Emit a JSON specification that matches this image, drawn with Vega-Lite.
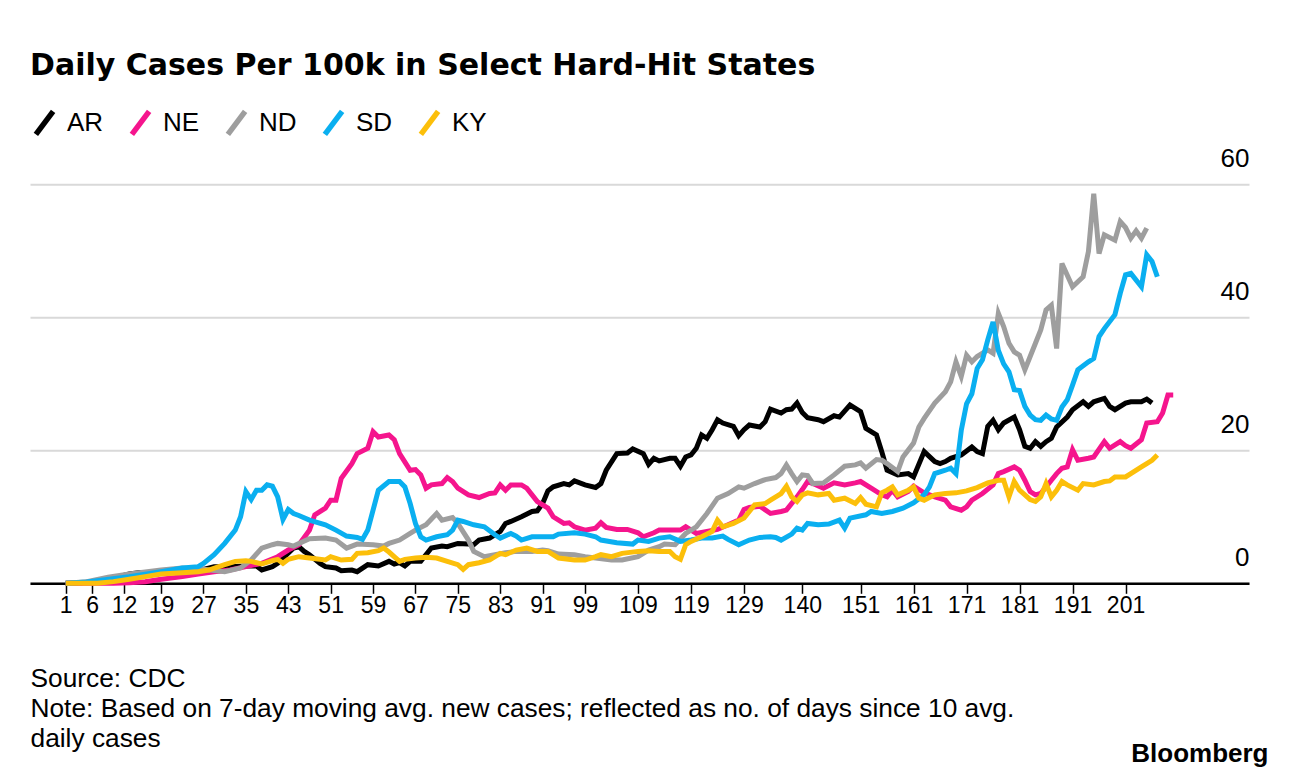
{
"$schema": "https://vega.github.io/schema/vega-lite/v6.json",
"width": 1219,
"height": 399,
"autosize": {"type": "none"},
"padding": {"left": 30, "top": 184.3, "right": 47, "bottom": 194.7},
"background": "white",
"title": {"text": "Daily Cases Per 100k in Select Hard-Hit States", "anchor": "start", "frame": "group", "font": "DejaVu Sans", "fontSize": 30, "fontWeight": "bold", "color": "black", "baseline": "alphabetic", "offset": 3},
"data": {"values": [
{"s":"AR","d":1,"v":0},{"s":"AR","d":4,"v":0.1},{"s":"AR","d":7,"v":0.3},{"s":"AR","d":9,"v":0.7},{"s":"AR","d":11,"v":1.0},{"s":"AR","d":13,"v":1.4},{"s":"AR","d":15,"v":1.6},{"s":"AR","d":16,"v":1.4},{"s":"AR","d":19,"v":1.5},{"s":"AR","d":23,"v":1.8},{"s":"AR","d":27,"v":2.1},{"s":"AR","d":29,"v":2.5},{"s":"AR","d":32,"v":2.5},{"s":"AR","d":35,"v":2.6},{"s":"AR","d":37,"v":2.6},{"s":"AR","d":38,"v":2.0},{"s":"AR","d":40,"v":2.5},{"s":"AR","d":41,"v":3.0},{"s":"AR","d":44,"v":5.3},{"s":"AR","d":45,"v":5.5},{"s":"AR","d":46,"v":4.8},{"s":"AR","d":47,"v":4.3},{"s":"AR","d":49,"v":3.0},{"s":"AR","d":50,"v":2.5},{"s":"AR","d":52,"v":2.3},{"s":"AR","d":53,"v":1.9},{"s":"AR","d":55,"v":2.0},{"s":"AR","d":56,"v":1.75},{"s":"AR","d":58,"v":2.8},{"s":"AR","d":60,"v":2.6},{"s":"AR","d":62,"v":3.3},{"s":"AR","d":63,"v":2.9},{"s":"AR","d":64,"v":3.1},{"s":"AR","d":65,"v":2.6},{"s":"AR","d":66,"v":3.3},{"s":"AR","d":68,"v":3.3},{"s":"AR","d":70,"v":5.3},{"s":"AR","d":72,"v":5.6},{"s":"AR","d":73,"v":5.5},{"s":"AR","d":75,"v":6.0},{"s":"AR","d":77,"v":5.9},{"s":"AR","d":78,"v":5.8},{"s":"AR","d":79,"v":6.5},{"s":"AR","d":81,"v":6.8},{"s":"AR","d":83,"v":7.8},{"s":"AR","d":84,"v":9.0},{"s":"AR","d":85,"v":9.3},{"s":"AR","d":87,"v":10.0},{"s":"AR","d":89,"v":10.8},{"s":"AR","d":90,"v":10.9},{"s":"AR","d":91,"v":12.0},{"s":"AR","d":92,"v":13.9},{"s":"AR","d":93,"v":14.5},{"s":"AR","d":95,"v":15.0},{"s":"AR","d":96,"v":14.8},{"s":"AR","d":97,"v":15.4},{"s":"AR","d":99,"v":14.8},{"s":"AR","d":101,"v":14.4},{"s":"AR","d":102,"v":15.0},{"s":"AR","d":103,"v":17.0},{"s":"AR","d":105,"v":19.5},{"s":"AR","d":107,"v":19.6},{"s":"AR","d":108,"v":20.2},{"s":"AR","d":110,"v":19.5},{"s":"AR","d":111,"v":17.9},{"s":"AR","d":112,"v":18.8},{"s":"AR","d":113,"v":18.4},{"s":"AR","d":115,"v":18.8},{"s":"AR","d":116,"v":18.8},{"s":"AR","d":117,"v":17.6},{"s":"AR","d":118,"v":19.0},{"s":"AR","d":119,"v":19.3},{"s":"AR","d":120,"v":20.3},{"s":"AR","d":121,"v":22.3},{"s":"AR","d":122,"v":21.8},{"s":"AR","d":123,"v":23.1},{"s":"AR","d":124,"v":24.6},{"s":"AR","d":125,"v":24.1},{"s":"AR","d":127,"v":23.6},{"s":"AR","d":128,"v":22.2},{"s":"AR","d":129,"v":23.1},{"s":"AR","d":130,"v":23.8},{"s":"AR","d":132,"v":23.5},{"s":"AR","d":133,"v":24.3},{"s":"AR","d":134,"v":26.2},{"s":"AR","d":136,"v":25.6},{"s":"AR","d":137,"v":26.1},{"s":"AR","d":138,"v":26.2},{"s":"AR","d":139,"v":27.1},{"s":"AR","d":140,"v":25.7},{"s":"AR","d":141,"v":24.9},{"s":"AR","d":143,"v":24.6},{"s":"AR","d":144,"v":24.3},{"s":"AR","d":146,"v":25.2},{"s":"AR","d":147,"v":25.0},{"s":"AR","d":149,"v":26.8},{"s":"AR","d":151,"v":25.8},{"s":"AR","d":152,"v":23.3},{"s":"AR","d":154,"v":22.3},{"s":"AR","d":155,"v":19.8},{"s":"AR","d":156,"v":17.0},{"s":"AR","d":158,"v":16.3},{"s":"AR","d":160,"v":16.5},{"s":"AR","d":161,"v":16.0},{"s":"AR","d":163,"v":19.8},{"s":"AR","d":165,"v":18.3},{"s":"AR","d":166,"v":18.0},{"s":"AR","d":167,"v":18.3},{"s":"AR","d":168,"v":18.8},{"s":"AR","d":170,"v":19.3},{"s":"AR","d":172,"v":20.5},{"s":"AR","d":173,"v":19.8},{"s":"AR","d":174,"v":19.5},{"s":"AR","d":175,"v":23.6},{"s":"AR","d":176,"v":24.5},{"s":"AR","d":177,"v":23.1},{"s":"AR","d":178,"v":24.1},{"s":"AR","d":180,"v":25.0},{"s":"AR","d":181,"v":23.1},{"s":"AR","d":182,"v":20.6},{"s":"AR","d":183,"v":20.3},{"s":"AR","d":184,"v":21.3},{"s":"AR","d":185,"v":20.6},{"s":"AR","d":186,"v":21.3},{"s":"AR","d":187,"v":21.8},{"s":"AR","d":188,"v":23.5},{"s":"AR","d":190,"v":25.0},{"s":"AR","d":191,"v":26.1},{"s":"AR","d":193,"v":27.3},{"s":"AR","d":194,"v":26.6},{"s":"AR","d":195,"v":27.3},{"s":"AR","d":197,"v":27.8},{"s":"AR","d":198,"v":26.6},{"s":"AR","d":199,"v":26.1},{"s":"AR","d":201,"v":27.1},{"s":"AR","d":202,"v":27.3},{"s":"AR","d":204,"v":27.3},{"s":"AR","d":205,"v":27.7},{"s":"AR","d":206,"v":27.1},
{"s":"NE","d":1,"v":0},{"s":"NE","d":10,"v":0},{"s":"NE","d":13,"v":0.1},{"s":"NE","d":16,"v":0.25},{"s":"NE","d":19,"v":0.6},{"s":"NE","d":23,"v":1.0},{"s":"NE","d":26,"v":1.4},{"s":"NE","d":29,"v":1.75},{"s":"NE","d":32,"v":2.0},{"s":"NE","d":35,"v":2.5},{"s":"NE","d":38,"v":3.0},{"s":"NE","d":41,"v":4.0},{"s":"NE","d":43,"v":5.0},{"s":"NE","d":45,"v":5.8},{"s":"NE","d":47,"v":8.0},{"s":"NE","d":48,"v":10.3},{"s":"NE","d":50,"v":11.3},{"s":"NE","d":51,"v":12.5},{"s":"NE","d":52,"v":12.5},{"s":"NE","d":53,"v":15.8},{"s":"NE","d":55,"v":18.0},{"s":"NE","d":56,"v":19.5},{"s":"NE","d":58,"v":20.3},{"s":"NE","d":59,"v":22.8},{"s":"NE","d":60,"v":22.0},{"s":"NE","d":62,"v":22.3},{"s":"NE","d":63,"v":21.6},{"s":"NE","d":64,"v":19.5},{"s":"NE","d":66,"v":17.0},{"s":"NE","d":67,"v":17.1},{"s":"NE","d":68,"v":16.3},{"s":"NE","d":69,"v":14.3},{"s":"NE","d":70,"v":14.8},{"s":"NE","d":72,"v":15.0},{"s":"NE","d":73,"v":15.9},{"s":"NE","d":74,"v":15.3},{"s":"NE","d":75,"v":14.3},{"s":"NE","d":77,"v":13.3},{"s":"NE","d":79,"v":12.9},{"s":"NE","d":81,"v":13.5},{"s":"NE","d":82,"v":13.6},{"s":"NE","d":83,"v":14.8},{"s":"NE","d":84,"v":14.0},{"s":"NE","d":85,"v":14.8},{"s":"NE","d":87,"v":14.8},{"s":"NE","d":88,"v":14.3},{"s":"NE","d":89,"v":13.3},{"s":"NE","d":90,"v":12.3},{"s":"NE","d":92,"v":11.3},{"s":"NE","d":93,"v":10.0},{"s":"NE","d":95,"v":9.0},{"s":"NE","d":96,"v":9.1},{"s":"NE","d":97,"v":8.5},{"s":"NE","d":99,"v":8.0},{"s":"NE","d":101,"v":8.3},{"s":"NE","d":102,"v":9.1},{"s":"NE","d":103,"v":8.4},{"s":"NE","d":105,"v":8.1},{"s":"NE","d":107,"v":8.1},{"s":"NE","d":109,"v":7.6},{"s":"NE","d":110,"v":7.0},{"s":"NE","d":112,"v":7.6},{"s":"NE","d":113,"v":8.0},{"s":"NE","d":115,"v":8.0},{"s":"NE","d":117,"v":8.0},{"s":"NE","d":118,"v":8.5},{"s":"NE","d":120,"v":7.5},{"s":"NE","d":122,"v":7.8},{"s":"NE","d":124,"v":8.1},{"s":"NE","d":126,"v":8.8},{"s":"NE","d":128,"v":9.5},{"s":"NE","d":129,"v":11.1},{"s":"NE","d":130,"v":11.4},{"s":"NE","d":132,"v":11.6},{"s":"NE","d":134,"v":10.5},{"s":"NE","d":136,"v":10.8},{"s":"NE","d":137,"v":11.0},{"s":"NE","d":139,"v":13.0},{"s":"NE","d":140,"v":14.1},{"s":"NE","d":141,"v":15.3},{"s":"NE","d":142,"v":15.0},{"s":"NE","d":144,"v":14.3},{"s":"NE","d":146,"v":15.1},{"s":"NE","d":148,"v":14.8},{"s":"NE","d":150,"v":15.1},{"s":"NE","d":151,"v":15.3},{"s":"NE","d":153,"v":14.3},{"s":"NE","d":155,"v":13.3},{"s":"NE","d":156,"v":13.0},{"s":"NE","d":157,"v":14.0},{"s":"NE","d":158,"v":13.0},{"s":"NE","d":160,"v":13.8},{"s":"NE","d":161,"v":14.6},{"s":"NE","d":163,"v":13.6},{"s":"NE","d":165,"v":13.0},{"s":"NE","d":167,"v":12.5},{"s":"NE","d":168,"v":11.5},{"s":"NE","d":170,"v":11.0},{"s":"NE","d":171,"v":11.5},{"s":"NE","d":172,"v":12.5},{"s":"NE","d":174,"v":13.5},{"s":"NE","d":176,"v":14.8},{"s":"NE","d":177,"v":16.5},{"s":"NE","d":178,"v":16.8},{"s":"NE","d":180,"v":17.5},{"s":"NE","d":181,"v":17.0},{"s":"NE","d":182,"v":15.5},{"s":"NE","d":183,"v":13.8},{"s":"NE","d":184,"v":13.3},{"s":"NE","d":185,"v":13.5},{"s":"NE","d":186,"v":14.5},{"s":"NE","d":187,"v":15.5},{"s":"NE","d":188,"v":16.5},{"s":"NE","d":189,"v":17.3},{"s":"NE","d":190,"v":17.5},{"s":"NE","d":191,"v":20.1},{"s":"NE","d":192,"v":18.5},{"s":"NE","d":194,"v":18.8},{"s":"NE","d":195,"v":19.0},{"s":"NE","d":197,"v":21.3},{"s":"NE","d":198,"v":20.3},{"s":"NE","d":200,"v":21.3},{"s":"NE","d":201,"v":20.7},{"s":"NE","d":202,"v":20.3},{"s":"NE","d":204,"v":21.6},{"s":"NE","d":205,"v":24.1},{"s":"NE","d":207,"v":24.3},{"s":"NE","d":208,"v":25.6},{"s":"NE","d":209,"v":28.3},{"s":"NE","d":210,"v":28.3},
{"s":"ND","d":1,"v":0},{"s":"ND","d":5,"v":0.25},{"s":"ND","d":9,"v":0.9},{"s":"ND","d":13,"v":1.4},{"s":"ND","d":19,"v":2.0},{"s":"ND","d":23,"v":2.3},{"s":"ND","d":27,"v":2.1},{"s":"ND","d":31,"v":1.75},{"s":"ND","d":34,"v":2.3},{"s":"ND","d":36,"v":3.5},{"s":"ND","d":38,"v":5.3},{"s":"ND","d":40,"v":5.8},{"s":"ND","d":41,"v":6.0},{"s":"ND","d":43,"v":5.8},{"s":"ND","d":44,"v":5.6},{"s":"ND","d":45,"v":6.0},{"s":"ND","d":47,"v":6.7},{"s":"ND","d":50,"v":6.8},{"s":"ND","d":52,"v":6.5},{"s":"ND","d":54,"v":5.3},{"s":"ND","d":56,"v":5.9},{"s":"ND","d":59,"v":5.8},{"s":"ND","d":61,"v":5.6},{"s":"ND","d":62,"v":6.0},{"s":"ND","d":64,"v":6.5},{"s":"ND","d":66,"v":7.5},{"s":"ND","d":67,"v":8.0},{"s":"ND","d":69,"v":8.8},{"s":"ND","d":71,"v":10.5},{"s":"ND","d":72,"v":9.5},{"s":"ND","d":74,"v":9.9},{"s":"ND","d":75,"v":9.0},{"s":"ND","d":77,"v":6.5},{"s":"ND","d":78,"v":4.8},{"s":"ND","d":80,"v":4.0},{"s":"ND","d":82,"v":4.3},{"s":"ND","d":84,"v":4.6},{"s":"ND","d":86,"v":4.8},{"s":"ND","d":89,"v":4.8},{"s":"ND","d":91,"v":5.0},{"s":"ND","d":92,"v":4.9},{"s":"ND","d":94,"v":4.4},{"s":"ND","d":97,"v":4.3},{"s":"ND","d":99,"v":4.0},{"s":"ND","d":101,"v":3.8},{"s":"ND","d":104,"v":3.5},{"s":"ND","d":106,"v":3.5},{"s":"ND","d":109,"v":4.0},{"s":"ND","d":111,"v":5.0},{"s":"ND","d":113,"v":5.5},{"s":"ND","d":114,"v":5.9},{"s":"ND","d":116,"v":5.8},{"s":"ND","d":118,"v":7.5},{"s":"ND","d":120,"v":8.5},{"s":"ND","d":122,"v":10.5},{"s":"ND","d":124,"v":12.8},{"s":"ND","d":126,"v":13.5},{"s":"ND","d":128,"v":14.5},{"s":"ND","d":129,"v":14.3},{"s":"ND","d":131,"v":15.0},{"s":"ND","d":133,"v":15.6},{"s":"ND","d":135,"v":15.9},{"s":"ND","d":136,"v":16.5},{"s":"ND","d":137,"v":17.8},{"s":"ND","d":138,"v":16.5},{"s":"ND","d":139,"v":15.3},{"s":"ND","d":140,"v":16.3},{"s":"ND","d":141,"v":16.2},{"s":"ND","d":142,"v":15.0},{"s":"ND","d":144,"v":15.1},{"s":"ND","d":146,"v":16.3},{"s":"ND","d":148,"v":17.6},{"s":"ND","d":150,"v":17.8},{"s":"ND","d":151,"v":18.1},{"s":"ND","d":152,"v":17.3},{"s":"ND","d":154,"v":18.6},{"s":"ND","d":155,"v":18.5},{"s":"ND","d":156,"v":18.0},{"s":"ND","d":158,"v":16.8},{"s":"ND","d":159,"v":19.0},{"s":"ND","d":161,"v":21.1},{"s":"ND","d":162,"v":23.5},{"s":"ND","d":163,"v":24.8},{"s":"ND","d":165,"v":27.1},{"s":"ND","d":167,"v":28.8},{"s":"ND","d":168,"v":30.3},{"s":"ND","d":169,"v":33.3},{"s":"ND","d":170,"v":31.1},{"s":"ND","d":171,"v":34.3},{"s":"ND","d":172,"v":33.3},{"s":"ND","d":173,"v":34.1},{"s":"ND","d":175,"v":35.1},{"s":"ND","d":176,"v":34.6},{"s":"ND","d":177,"v":40.6},{"s":"ND","d":178,"v":38.6},{"s":"ND","d":179,"v":36.1},{"s":"ND","d":180,"v":34.8},{"s":"ND","d":181,"v":34.3},{"s":"ND","d":182,"v":32.1},{"s":"ND","d":183,"v":34.1},{"s":"ND","d":184,"v":36.1},{"s":"ND","d":185,"v":38.1},{"s":"ND","d":186,"v":41.1},{"s":"ND","d":187,"v":41.8},{"s":"ND","d":188,"v":35.3},{"s":"ND","d":189,"v":48.1},{"s":"ND","d":191,"v":44.6},{"s":"ND","d":193,"v":46.1},{"s":"ND","d":194,"v":49.9},{"s":"ND","d":195,"v":58.6},{"s":"ND","d":196,"v":49.6},{"s":"ND","d":197,"v":52.4},{"s":"ND","d":199,"v":51.6},{"s":"ND","d":200,"v":54.4},{"s":"ND","d":201,"v":53.5},{"s":"ND","d":202,"v":51.9},{"s":"ND","d":203,"v":53.0},{"s":"ND","d":204,"v":51.9},{"s":"ND","d":205,"v":53.4},
{"s":"SD","d":1,"v":0},{"s":"SD","d":5,"v":0.2},{"s":"SD","d":13,"v":1.0},{"s":"SD","d":19,"v":1.75},{"s":"SD","d":23,"v":2.3},{"s":"SD","d":26,"v":2.5},{"s":"SD","d":27,"v":3.0},{"s":"SD","d":29,"v":4.3},{"s":"SD","d":31,"v":6.0},{"s":"SD","d":33,"v":8.0},{"s":"SD","d":34,"v":10.0},{"s":"SD","d":35,"v":13.8},{"s":"SD","d":36,"v":12.6},{"s":"SD","d":37,"v":14.0},{"s":"SD","d":38,"v":14.0},{"s":"SD","d":39,"v":14.8},{"s":"SD","d":40,"v":14.6},{"s":"SD","d":41,"v":13.0},{"s":"SD","d":42,"v":9.6},{"s":"SD","d":43,"v":11.1},{"s":"SD","d":44,"v":10.5},{"s":"SD","d":45,"v":10.2},{"s":"SD","d":47,"v":9.5},{"s":"SD","d":50,"v":8.8},{"s":"SD","d":52,"v":8.0},{"s":"SD","d":54,"v":7.1},{"s":"SD","d":56,"v":6.9},{"s":"SD","d":57,"v":6.6},{"s":"SD","d":58,"v":8.0},{"s":"SD","d":59,"v":11.0},{"s":"SD","d":60,"v":14.0},{"s":"SD","d":62,"v":15.3},{"s":"SD","d":64,"v":15.3},{"s":"SD","d":65,"v":14.5},{"s":"SD","d":66,"v":12.0},{"s":"SD","d":67,"v":9.0},{"s":"SD","d":68,"v":7.0},{"s":"SD","d":69,"v":6.5},{"s":"SD","d":71,"v":7.0},{"s":"SD","d":73,"v":7.3},{"s":"SD","d":74,"v":8.0},{"s":"SD","d":75,"v":9.5},{"s":"SD","d":76,"v":9.3},{"s":"SD","d":78,"v":8.8},{"s":"SD","d":80,"v":8.5},{"s":"SD","d":82,"v":7.3},{"s":"SD","d":83,"v":6.8},{"s":"SD","d":85,"v":7.5},{"s":"SD","d":86,"v":7.1},{"s":"SD","d":87,"v":6.5},{"s":"SD","d":89,"v":7.0},{"s":"SD","d":91,"v":7.0},{"s":"SD","d":93,"v":7.0},{"s":"SD","d":94,"v":7.4},{"s":"SD","d":97,"v":7.6},{"s":"SD","d":99,"v":7.4},{"s":"SD","d":101,"v":7.0},{"s":"SD","d":102,"v":6.5},{"s":"SD","d":105,"v":6.1},{"s":"SD","d":108,"v":5.9},{"s":"SD","d":109,"v":6.5},{"s":"SD","d":111,"v":6.3},{"s":"SD","d":113,"v":6.8},{"s":"SD","d":115,"v":7.0},{"s":"SD","d":117,"v":6.3},{"s":"SD","d":119,"v":6.5},{"s":"SD","d":121,"v":6.8},{"s":"SD","d":123,"v":6.8},{"s":"SD","d":125,"v":7.1},{"s":"SD","d":126,"v":6.6},{"s":"SD","d":128,"v":5.8},{"s":"SD","d":130,"v":6.5},{"s":"SD","d":132,"v":6.9},{"s":"SD","d":134,"v":7.0},{"s":"SD","d":135,"v":6.9},{"s":"SD","d":136,"v":6.5},{"s":"SD","d":138,"v":7.4},{"s":"SD","d":139,"v":8.3},{"s":"SD","d":140,"v":8.0},{"s":"SD","d":141,"v":9.0},{"s":"SD","d":143,"v":8.8},{"s":"SD","d":145,"v":8.9},{"s":"SD","d":147,"v":9.5},{"s":"SD","d":148,"v":8.3},{"s":"SD","d":149,"v":9.8},{"s":"SD","d":152,"v":10.3},{"s":"SD","d":153,"v":10.8},{"s":"SD","d":155,"v":10.5},{"s":"SD","d":157,"v":10.8},{"s":"SD","d":159,"v":11.3},{"s":"SD","d":161,"v":12.1},{"s":"SD","d":163,"v":13.3},{"s":"SD","d":164,"v":14.5},{"s":"SD","d":165,"v":16.5},{"s":"SD","d":167,"v":17.0},{"s":"SD","d":168,"v":17.3},{"s":"SD","d":169,"v":16.5},{"s":"SD","d":170,"v":23.0},{"s":"SD","d":171,"v":27.0},{"s":"SD","d":172,"v":28.5},{"s":"SD","d":173,"v":32.3},{"s":"SD","d":174,"v":33.6},{"s":"SD","d":175,"v":36.6},{"s":"SD","d":176,"v":39.3},{"s":"SD","d":177,"v":35.0},{"s":"SD","d":178,"v":33.0},{"s":"SD","d":179,"v":31.8},{"s":"SD","d":180,"v":29.1},{"s":"SD","d":181,"v":29.0},{"s":"SD","d":182,"v":26.6},{"s":"SD","d":183,"v":25.3},{"s":"SD","d":184,"v":24.6},{"s":"SD","d":185,"v":24.5},{"s":"SD","d":186,"v":25.3},{"s":"SD","d":187,"v":24.7},{"s":"SD","d":188,"v":24.5},{"s":"SD","d":189,"v":26.5},{"s":"SD","d":190,"v":27.6},{"s":"SD","d":191,"v":29.8},{"s":"SD","d":192,"v":32.1},{"s":"SD","d":194,"v":33.3},{"s":"SD","d":195,"v":33.8},{"s":"SD","d":196,"v":37.1},{"s":"SD","d":197,"v":38.3},{"s":"SD","d":199,"v":40.4},{"s":"SD","d":200,"v":43.6},{"s":"SD","d":201,"v":46.4},{"s":"SD","d":202,"v":46.6},{"s":"SD","d":204,"v":44.6},{"s":"SD","d":205,"v":49.4},{"s":"SD","d":206,"v":48.4},{"s":"SD","d":207,"v":46.1},
{"s":"KY","d":1,"v":0},{"s":"KY","d":7,"v":0},{"s":"KY","d":10,"v":0.25},{"s":"KY","d":13,"v":0.6},{"s":"KY","d":16,"v":1.0},{"s":"KY","d":19,"v":1.4},{"s":"KY","d":23,"v":1.6},{"s":"KY","d":26,"v":1.75},{"s":"KY","d":28,"v":2.0},{"s":"KY","d":31,"v":2.8},{"s":"KY","d":33,"v":3.3},{"s":"KY","d":35,"v":3.4},{"s":"KY","d":36,"v":3.3},{"s":"KY","d":38,"v":2.9},{"s":"KY","d":40,"v":3.4},{"s":"KY","d":41,"v":3.6},{"s":"KY","d":42,"v":3.0},{"s":"KY","d":43,"v":3.6},{"s":"KY","d":45,"v":4.0},{"s":"KY","d":47,"v":3.8},{"s":"KY","d":50,"v":3.5},{"s":"KY","d":51,"v":4.0},{"s":"KY","d":53,"v":3.5},{"s":"KY","d":55,"v":3.6},{"s":"KY","d":56,"v":4.5},{"s":"KY","d":58,"v":4.6},{"s":"KY","d":60,"v":4.9},{"s":"KY","d":61,"v":5.3},{"s":"KY","d":62,"v":4.7},{"s":"KY","d":64,"v":3.3},{"s":"KY","d":65,"v":3.6},{"s":"KY","d":67,"v":3.8},{"s":"KY","d":69,"v":3.9},{"s":"KY","d":71,"v":3.8},{"s":"KY","d":73,"v":3.3},{"s":"KY","d":75,"v":2.8},{"s":"KY","d":76,"v":2.1},{"s":"KY","d":77,"v":2.8},{"s":"KY","d":79,"v":3.1},{"s":"KY","d":81,"v":3.5},{"s":"KY","d":83,"v":4.5},{"s":"KY","d":84,"v":4.3},{"s":"KY","d":86,"v":5.0},{"s":"KY","d":88,"v":5.3},{"s":"KY","d":90,"v":4.8},{"s":"KY","d":92,"v":4.8},{"s":"KY","d":94,"v":3.8},{"s":"KY","d":97,"v":3.5},{"s":"KY","d":99,"v":3.5},{"s":"KY","d":101,"v":4.0},{"s":"KY","d":102,"v":4.3},{"s":"KY","d":104,"v":4.0},{"s":"KY","d":106,"v":4.5},{"s":"KY","d":109,"v":4.8},{"s":"KY","d":111,"v":4.9},{"s":"KY","d":113,"v":4.8},{"s":"KY","d":115,"v":4.8},{"s":"KY","d":116,"v":4.0},{"s":"KY","d":117,"v":3.6},{"s":"KY","d":118,"v":5.8},{"s":"KY","d":119,"v":6.3},{"s":"KY","d":121,"v":7.0},{"s":"KY","d":123,"v":7.8},{"s":"KY","d":124,"v":9.5},{"s":"KY","d":125,"v":8.5},{"s":"KY","d":127,"v":9.0},{"s":"KY","d":129,"v":9.8},{"s":"KY","d":131,"v":11.8},{"s":"KY","d":133,"v":12.0},{"s":"KY","d":134,"v":12.5},{"s":"KY","d":136,"v":13.5},{"s":"KY","d":137,"v":14.6},{"s":"KY","d":138,"v":13.0},{"s":"KY","d":139,"v":12.3},{"s":"KY","d":140,"v":13.3},{"s":"KY","d":141,"v":13.6},{"s":"KY","d":143,"v":13.3},{"s":"KY","d":145,"v":13.5},{"s":"KY","d":146,"v":12.5},{"s":"KY","d":148,"v":12.8},{"s":"KY","d":150,"v":12.0},{"s":"KY","d":151,"v":12.9},{"s":"KY","d":152,"v":11.9},{"s":"KY","d":154,"v":11.5},{"s":"KY","d":155,"v":13.6},{"s":"KY","d":156,"v":14.0},{"s":"KY","d":157,"v":14.5},{"s":"KY","d":158,"v":13.3},{"s":"KY","d":160,"v":14.0},{"s":"KY","d":161,"v":14.5},{"s":"KY","d":162,"v":12.8},{"s":"KY","d":163,"v":12.5},{"s":"KY","d":165,"v":13.3},{"s":"KY","d":167,"v":13.5},{"s":"KY","d":169,"v":13.6},{"s":"KY","d":171,"v":13.9},{"s":"KY","d":173,"v":14.4},{"s":"KY","d":175,"v":15.1},{"s":"KY","d":177,"v":15.5},{"s":"KY","d":178,"v":15.5},{"s":"KY","d":179,"v":13.0},{"s":"KY","d":180,"v":15.3},{"s":"KY","d":181,"v":14.0},{"s":"KY","d":183,"v":12.6},{"s":"KY","d":184,"v":12.3},{"s":"KY","d":185,"v":13.0},{"s":"KY","d":186,"v":15.0},{"s":"KY","d":187,"v":13.0},{"s":"KY","d":188,"v":14.0},{"s":"KY","d":189,"v":15.3},{"s":"KY","d":190,"v":14.8},{"s":"KY","d":192,"v":14.0},{"s":"KY","d":193,"v":15.0},{"s":"KY","d":195,"v":14.8},{"s":"KY","d":197,"v":15.3},{"s":"KY","d":198,"v":15.4},{"s":"KY","d":199,"v":16.0},{"s":"KY","d":201,"v":16.0},{"s":"KY","d":202,"v":16.5},{"s":"KY","d":204,"v":17.5},{"s":"KY","d":205,"v":18.0},{"s":"KY","d":206,"v":18.5},{"s":"KY","d":207,"v":19.3}
]},
"mark": {"type": "line", "strokeWidth": 5},
"encoding": {
 "x": {"field": "d", "type": "quantitative",
  "scale": {"domain": [-5.74, 224.3], "nice": false, "zero": false},
  "axis": {"values": [1,6,12,19,27,35,43,51,59,67,75,83,91,99,109,119,129,140,151,161,171,181,191,201], "grid": false, "domainColor": "black", "domainWidth": 2.5, "tickColor": "black", "tickWidth": 1.5, "tickSize": 10, "labelFontSize": 23, "labelColor": "black", "labelFont": "Liberation Sans", "labelPadding": 1, "labelOverlap": false, "labelFlush": false,
   "title": ["Source: CDC", "Note: Based on 7-day moving avg. new cases; reflected as no. of days since 10 avg.", "daily cases"],
   "titleX": 0, "titleY": 103.4, "titleAlign": "left", "titleAnchor": "start", "titleBaseline": "alphabetic", "titleFont": "Liberation Sans", "titleFontSize": 26.3, "titleFontWeight": "normal", "titleColor": "black", "titleLineHeight": 30}},
 "y": {"field": "v", "type": "quantitative",
  "scale": {"domain": [0, 60], "nice": false},
  "axis": {"orient": "right", "values": [0,20,40,60], "grid": true, "gridColor": "#d9d9d9", "gridWidth": 2, "domain": false, "ticks": false, "labelAlign": "right", "labelBaseline": "alphabetic", "labelOffset": -17.6, "labelPadding": 0, "labelFont": "Liberation Sans", "labelFontSize": 26, "labelColor": "black",
   "title": "Bloomberg", "titleAngle": 0, "titleX": 19, "titleY": 576.7, "titleAlign": "right", "titleBaseline": "alphabetic", "titleFont": "Liberation Sans", "titleFontSize": 26, "titleFontWeight": "bold", "titleColor": "black"}},
 "color": {"field": "s", "type": "nominal",
  "scale": {"domain": ["AR","NE","ND","SD","KY"], "range": ["#000000","#f5158d","#9e9e9e","#0aaff0","#fcbf0a"]},
  "legend": {"orient": "none", "legendX": 0, "legendY": -76, "direction": "horizontal", "title": null, "symbolType": "M-0.75,1L0.75,-1", "symbolSize": 529, "symbolStrokeWidth": 5.5, "labelFont": "Liberation Sans", "labelFontSize": 26, "labelColor": "black", "labelOffset": 8, "columnPadding": 16, "padding": 0}}
},
"config": {"view": {"stroke": null}}
}
